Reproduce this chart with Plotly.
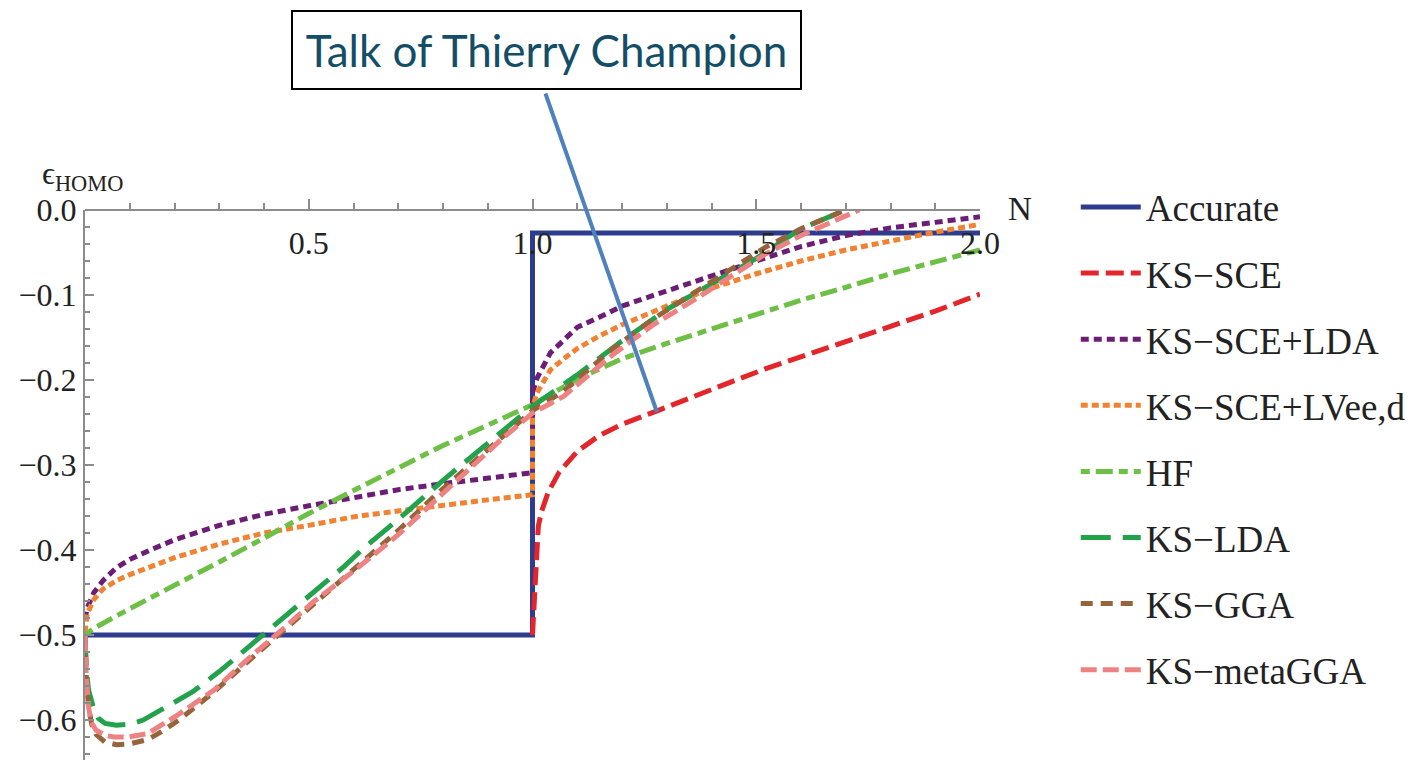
import plotly.graph_objects as go

# ---------------- data ----------------
acc_N = [0.0, 1.0, 1.0, 2.0]
acc_e = [-0.5, -0.5, -0.027, -0.027]

sce_N = [1.0, 1.004, 1.008, 1.013, 1.02, 1.035, 1.06, 1.1, 1.15, 1.2, 1.28, 1.36, 1.44, 1.52, 1.6, 1.7, 1.8, 1.9, 2.0]
sce_e = [-0.5, -0.45, -0.40, -0.372, -0.355, -0.332, -0.308, -0.284, -0.265, -0.252, -0.236, -0.219, -0.203, -0.187, -0.173, -0.154, -0.137, -0.119, -0.099]

lda_sce_N = [0.0, 0.005, 0.02, 0.04, 0.07, 0.1, 0.15, 0.2, 0.3, 0.4, 0.5, 0.6, 0.7, 0.8, 0.9, 1.0,
             1.0, 1.01, 1.04, 1.07, 1.1, 1.15, 1.2, 1.25, 1.3, 1.4, 1.5, 1.6, 1.7, 1.8, 1.9, 2.0]
lda_sce_e = [-0.482, -0.468, -0.450, -0.436, -0.421, -0.411, -0.399, -0.388, -0.371, -0.358, -0.348, -0.338, -0.329, -0.322, -0.315, -0.309,
             -0.215, -0.198, -0.168, -0.152, -0.138, -0.126, -0.113, -0.104, -0.095, -0.078, -0.060, -0.043, -0.030, -0.021, -0.014, -0.008]

lvee_N = [0.0, 0.005, 0.02, 0.04, 0.07, 0.1, 0.15, 0.2, 0.3, 0.4, 0.5, 0.6, 0.7, 0.8, 0.9, 1.0,
          1.0, 1.01, 1.04, 1.07, 1.1, 1.15, 1.2, 1.3, 1.4, 1.5, 1.6, 1.7, 1.8, 1.9, 2.0]
lvee_e = [-0.497, -0.475, -0.458, -0.446, -0.436, -0.429, -0.419, -0.409, -0.393, -0.380, -0.371, -0.361, -0.354, -0.347, -0.341, -0.335,
          -0.232, -0.215, -0.188, -0.175, -0.163, -0.148, -0.135, -0.113, -0.092, -0.075, -0.060, -0.047, -0.036, -0.026, -0.017]

hf_N = [0.0, 0.02, 0.1, 0.2, 0.3, 0.4, 0.5, 0.6, 0.7, 0.8, 0.9, 1.0, 1.1, 1.2, 1.3, 1.4, 1.5, 1.6, 1.7, 1.8, 1.9, 2.0]
hf_e = [-0.50, -0.492, -0.469, -0.442, -0.414, -0.386, -0.357, -0.330, -0.303, -0.277, -0.253, -0.229, -0.199, -0.175, -0.157, -0.140, -0.122, -0.106, -0.091, -0.075, -0.061, -0.047]

ldaN = [0.0, 0.003, 0.008, 0.018, 0.03, 0.045, 0.07, 0.1, 0.13, 0.17, 0.24, 0.3, 0.35, 0.4, 0.47, 0.51, 0.58, 0.62, 0.7, 0.8, 0.9, 1.0,
        1.1, 1.2, 1.3, 1.4, 1.5, 1.6, 1.7]
ldae = [-0.50, -0.540, -0.565, -0.584, -0.598, -0.604, -0.606, -0.605, -0.600, -0.588, -0.567, -0.543, -0.521, -0.499, -0.468, -0.449, -0.419, -0.399, -0.364, -0.318, -0.274, -0.231,
        -0.194, -0.154, -0.117, -0.087, -0.057, -0.022, 0.000]

ggaN = [0.0, 0.003, 0.008, 0.015, 0.025, 0.045, 0.07, 0.1, 0.14, 0.17, 0.21, 0.29, 0.36, 0.44, 0.51, 0.6, 0.7, 0.78, 0.86, 0.93, 1.0,
        1.07, 1.18, 1.27, 1.37, 1.45, 1.52, 1.6, 1.7]
ggae = [-0.50, -0.55, -0.585, -0.605, -0.617, -0.626, -0.629, -0.628, -0.623, -0.614, -0.600, -0.566, -0.533, -0.496, -0.463, -0.423, -0.377, -0.337, -0.300, -0.267, -0.236,
        -0.213, -0.163, -0.128, -0.095, -0.067, -0.044, -0.022, 0.000]

mggaN = [0.0, 0.003, 0.008, 0.014, 0.025, 0.045, 0.065, 0.095, 0.14, 0.21, 0.29, 0.36, 0.44, 0.51, 0.6, 0.7, 0.78, 0.86, 0.93, 1.0,
         1.07, 1.18, 1.27, 1.37, 1.45, 1.52, 1.6, 1.73]
mggae = [-0.50, -0.55, -0.585, -0.603, -0.612, -0.618, -0.620, -0.620, -0.616, -0.593, -0.564, -0.530, -0.494, -0.461, -0.425, -0.382, -0.343, -0.303, -0.270, -0.239,
         -0.219, -0.170, -0.135, -0.103, -0.076, -0.052, -0.030, 0.000]

x_tickvals = [0.5, 1.0, 1.5, 2.0]
x_ticktext = ["0.5", "1.0", "1.5", "2.0"]
y_tickvals = [0.0, -0.1, -0.2, -0.3, -0.4, -0.5, -0.6]
y_ticktext = ["0.0", "\u22120.1", "\u22120.2", "\u22120.3", "\u22120.4", "\u22120.5", "\u22120.6"]

# ---------------- figure ----------------
series = [
    ("Accurate", acc_N, acc_e, "#2E3C8F", "solid", 5),
    ("KS\u2212SCE", sce_N, sce_e, "#E3262B", "18px,7px", 5),
    ("KS\u2212SCE+LDA", lda_sce_N, lda_sce_e, "#6C1D76", "8px,5px", 5),
    ("KS\u2212SCE+LVee,d", lvee_N, lvee_e, "#F08232", "7px,4px", 5),
    ("HF", hf_N, hf_e, "#6DBF45", "9px,6px,17px,6px", 5),
    ("KS\u2212LDA", ldaN, ldae, "#23A24C", "30px,12px", 5),
    ("KS\u2212GGA", ggaN, ggae, "#95643A", "12px,8px", 5),
    ("KS\u2212metaGGA", mggaN, mggae, "#EE8282", "16px,6px", 5),
]

fig = go.Figure()
for i, (name, xs, ys, col, dash, w) in enumerate(series):
    fig.add_trace(go.Scatter(x=xs, y=ys, mode="lines", name=name, legendgroup=str(i),
                             line=dict(color=col, dash=dash, width=w)))

serif = "Liberation Serif"
axis_col = "#8C8C8C"

fig.update_layout(
    width=1423, height=760,
    margin=dict(l=85, r=443, t=210, b=0, autoexpand=False),
    paper_bgcolor="white", plot_bgcolor="white",
    showlegend=True,
    legend=dict(x=1.107, y=1.061, xanchor="left", yanchor="top",
                font=dict(family=serif, size=37, color="#222222"),
                tracegroupgap=15, bgcolor="rgba(0,0,0,0)", itemwidth=60,
                maxheight=660),
    xaxis=dict(range=[0, 2], anchor="free", position=1.0, side="bottom",
               showline=True, linecolor=axis_col, linewidth=2,
               showgrid=False, zeroline=False,
               tickmode="array", tickvals=x_tickvals, ticktext=x_ticktext,
               ticks="inside", ticklen=10, tickwidth=1.5, tickcolor=axis_col,
               ticklabelstandoff=5,
               minor=dict(dtick=0.1, tick0=0, ticks="inside", ticklen=6, tickwidth=1.5, tickcolor=axis_col),
               tickfont=dict(family=serif, size=32, color="#222222"),
               layer="above traces", automargin=False, fixedrange=True),
    yaxis=dict(range=[-0.647, 0.0], domain=[0, 1], showline=True, linecolor=axis_col, linewidth=2,
               showgrid=False, zeroline=False,
               tickmode="array", tickvals=y_tickvals, ticktext=y_ticktext,
               ticks="inside", ticklen=9, tickwidth=1.5, tickcolor=axis_col,
               minor=dict(dtick=0.02, tick0=0, ticks="inside", ticklen=5, tickwidth=1.5, tickcolor=axis_col),
               tickfont=dict(family=serif, size=32, color="#222222"),
               layer="above traces", automargin=False, fixedrange=True),
)

# axis labels
fig.add_annotation(text="\u03f5<sub>HOMO</sub>", xref="paper", yref="paper", x=-0.05, y=1.063,
                   xanchor="left", yanchor="middle", showarrow=False,
                   font=dict(family=serif, size=32, color="#222222"))
fig.add_annotation(text="N", xref="paper", yref="paper", x=1.029, y=1.002,
                   xanchor="left", yanchor="middle", showarrow=False,
                   font=dict(family=serif, size=33, color="#222222"))

# pointer line to the KS-SCE curve
fig.add_annotation(x=1.278, y=-0.2376, xref="x", yref="y", ax=-112, ay=-320, axref="pixel", ayref="pixel",
                   text="", showarrow=True, arrowhead=0, arrowwidth=4, arrowcolor="#4F81BD", standoff=0)

# boxed label
fig.add_annotation(text="Talk of Thierry Champion", xref="paper", yref="paper",
                   x=(546.5 - 85) / 895, y=(760 - 50) / 550, xanchor="center", yanchor="middle",
                   showarrow=False, width=507, height=76, borderpad=0,
                   bordercolor="#000000", borderwidth=2, bgcolor="white",
                   font=dict(family="Lato", size=44, color="#134E66"))

fig.write_html("out.html")
